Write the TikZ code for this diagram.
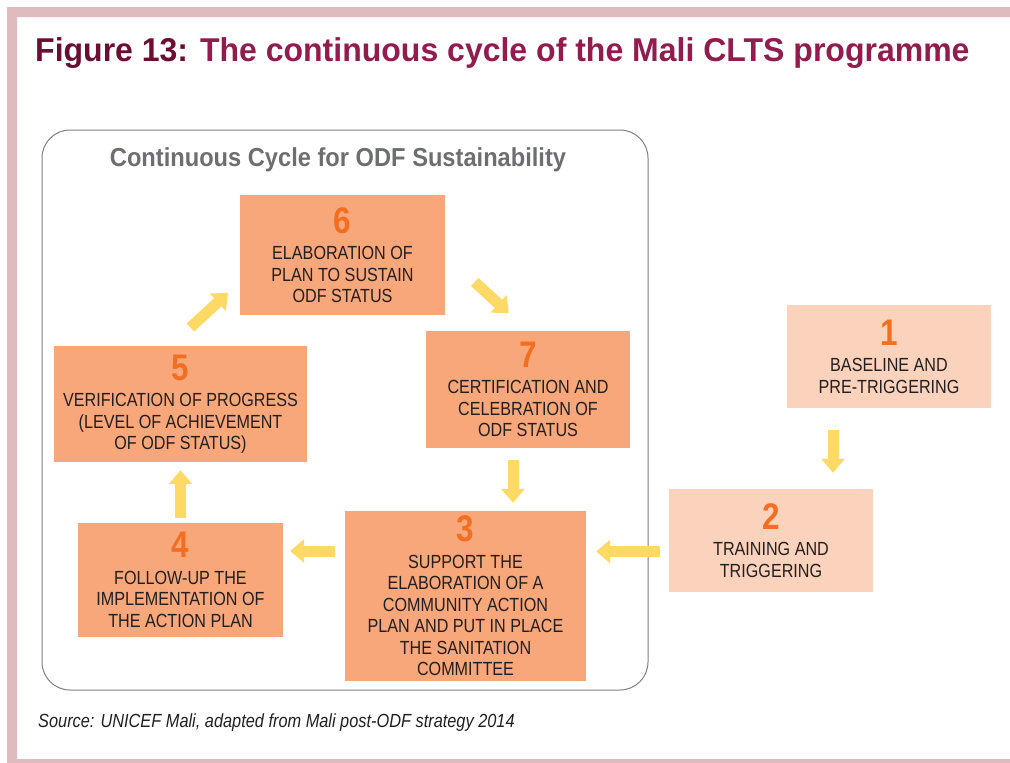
\documentclass[tikz,border=0pt]{standalone}
\usepackage{fontspec}
\setmainfont{Liberation Sans}
\newfontfamily\condfont[FakeStretch=0.85]{Liberation Sans}
\newfontfamily\numfont[FakeStretch=0.85]{Liberation Sans}
\newfontfamily\cyclefont[FakeStretch=0.91]{Liberation Sans}
\newfontfamily\sourcefont[FakeStretch=0.86]{Liberation Sans}
\newfontfamily\headfont[FakeStretch=0.97]{Liberation Sans}
\usetikzlibrary{arrows.meta}
\definecolor{framepink}{HTML}{DFBBC0}
\definecolor{figred}{HTML}{6B0E33}
\definecolor{headred}{HTML}{921C4D}
\definecolor{stagefill}{HTML}{F7A77A}
\definecolor{startfill}{HTML}{FBD3BC}
\definecolor{numorange}{HTML}{F26F21}
\definecolor{flowyellow}{HTML}{FFD966}
\definecolor{textgray}{HTML}{231F20}
\definecolor{cyclegray}{HTML}{6D6E71}
\newcommand{\stagenum}[1]{{\numfont\bfseries\fontsize{37}{37}\selectfont\color{numorange}#1}}
\begin{document}
\begin{tikzpicture}[x=1pt,y=-1pt]
        \tikzstyle{stage}=[fill=stagefill, text=textgray, align=center, inner sep=0pt, font=\condfont\fontsize{19}{21.5}\selectfont];
        \tikzstyle{prestage}=[stage, fill=startfill];
        \tikzstyle{flow}=[draw=flowyellow, line width=11pt, -{Triangle[length=14pt,width=23pt]}];
        \useasboundingbox (0,0) rectangle (1010,763);
        \fill[framepink] (7,7) rectangle (1010,17) (7,7) rectangle (17,763) (7,759) rectangle (1010,763);
        \node[anchor=base west, inner sep=0pt, font=\headfont\bfseries\fontsize{33}{33}\selectfont] (fig) at (35,61)
            {\color{figred}Figure 13: \color{headred}The continuous cycle of the Mali CLTS programme};
        \draw[draw=gray, line width=1pt, rounded corners=28pt] (42,130) rectangle (648,690);
        \node[text=cyclegray, font=\cyclefont\bfseries\fontsize{26}{26}\selectfont] (cycle) at (338,160) {Continuous Cycle for ODF Sustainability};
        \node[prestage, minimum width=204, minimum height=103] (s1) at (889,356.5) {\stagenum{1}\\[5pt] BASELINE AND\\ PRE-TRIGGERING};
        \node[prestage, minimum width=204, minimum height=103] (s2) at (771,540.5) {\stagenum{2}\\[5pt] TRAINING AND\\ TRIGGERING};
        \node[stage, minimum width=241, minimum height=170] (s3) at (465.5,596) {\stagenum{3}\\[5pt] SUPPORT THE\\ ELABORATION OF A\\ COMMUNITY ACTION\\ PLAN AND PUT IN PLACE\\ THE SANITATION\\ COMMITTEE};
        \node[stage, minimum width=205, minimum height=114] (s4) at (180.5,580) {\stagenum{4}\\[5pt] FOLLOW-UP THE\\ IMPLEMENTATION OF\\ THE ACTION PLAN};
        \node[stage, minimum width=253, minimum height=116] (s5) at (180.5,404) {\stagenum{5}\\[5pt] VERIFICATION OF PROGRESS\\ (LEVEL OF ACHIEVEMENT\\ OF ODF STATUS)};
        \node[stage, minimum width=205, minimum height=120] (s6) at (342.5,255) {\stagenum{6}\\[5pt] ELABORATION OF\\ PLAN TO SUSTAIN\\ ODF STATUS};
        \node[stage, minimum width=204, minimum height=117] (s7) at (528,389.5) {\stagenum{7}\\[5pt] CERTIFICATION AND\\ CELEBRATION OF\\ ODF STATUS};
        \draw[flow, shorten <=22pt, shorten >=16pt] ([xshift=-56pt]s1.south) -- ([xshift=62pt]s2.north);
        \draw[flow, shorten <=9pt, shorten >=10pt] ([yshift=-11pt]s2.west) -- ([yshift=-11pt]s2.west -| s3.east);
        \draw[flow, shorten <=10pt, shorten >=7pt] ([yshift=45pt]s3.west) -- ([yshift=45pt]s3.west -| s4.east);
        \draw[flow, shorten <=5pt, shorten >=8pt] (s4.north) -- (s5.south);
        \draw[flow, shorten <=27pt, shorten >=16pt] ([xshift=-10pt]s5.north) -- ([yshift=-27pt]s6.west);
        \draw[flow, shorten <=40pt, shorten >=26pt] (s6.east) -- (s7.north);
        \draw[flow, shorten <=12pt, shorten >=8pt] ([xshift=-15pt]s7.south) -- ([xshift=-15pt]s7.south |- s3.north);
        \node[anchor=base west, inner sep=0pt, text=textgray, font=\sourcefont\itshape\fontsize{19}{19}\selectfont] (source) at (38,727)
            {Source: UNICEF Mali, adapted from Mali post-ODF strategy 2014};
    \end{tikzpicture}
\end{document}
